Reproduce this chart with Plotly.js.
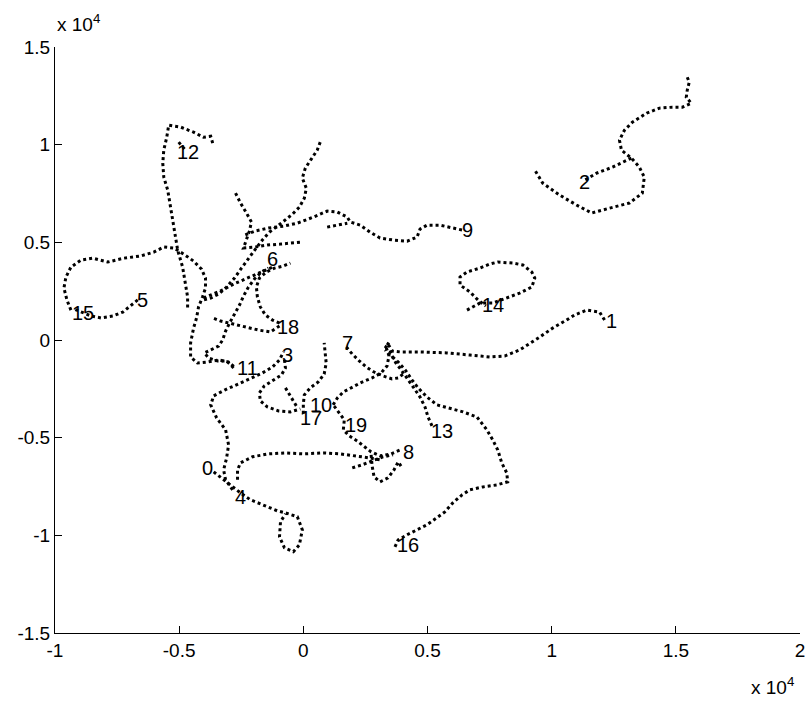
<!DOCTYPE html>
<html>
<head>
<meta charset="utf-8">
<script src="https://cdn.plot.ly/plotly-3.0.1.min.js"></script>
<style>html,body{margin:0;padding:0;background:#fff;}#chart{width:810px;height:709px;}</style>
</head>
<body>
<div id="chart"></div>
<script>
// Track coordinates in units of 10^4
const x0 = [-0.361,-0.325,-0.293,-0.253,-0.213,-0.161,-0.104,-0.072,-0.024,-0.004,-0.016,-0.040,-0.076,-0.096,-0.092,-0.072];
const y0 = [-0.675,-0.711,-0.747,-0.783,-0.818,-0.844,-0.875,-0.885,-0.905,-0.972,-1.049,-1.084,-1.064,-1.008,-0.931,-0.890];
const x1 = [1.213,1.193,1.141,1.092,1.060,1.004,0.952,0.904,0.871,0.811,0.751,0.671,0.578,0.470,0.390,0.357,0.341,0.329];
const y1 = [0.102,0.143,0.153,0.128,0.102,0.061,0.015,-0.026,-0.051,-0.082,-0.087,-0.077,-0.066,-0.061,-0.061,-0.056,-0.020,-0.041];
const x2 = [1.546,1.554,1.546,1.542,1.562,1.526,1.486,1.434,1.382,1.325,1.293,1.273,1.281,1.321,1.353,1.373,1.365,1.313,1.233,1.161,1.100,1.032,0.964,0.932,null,1.321,1.245,1.181,1.133];
const y2 = [1.345,1.320,1.279,1.243,1.212,1.192,1.192,1.187,1.161,1.115,1.074,1.023,0.972,0.931,0.885,0.834,0.752,0.701,0.675,0.650,0.691,0.742,0.803,0.870,null,0.931,0.885,0.854,0.818];
const x3 = [-0.076,-0.072,-0.088,-0.124,-0.157,-0.177,-0.173,-0.145,-0.100,-0.052,-0.012];
const y3 = [-0.102,-0.143,-0.179,-0.210,-0.235,-0.271,-0.312,-0.343,-0.363,-0.368,-0.353];
const x4 = [-0.285,-0.313,-0.321,-0.309,-0.301,-0.313,-0.349,-0.373,-0.361,-0.317,-0.261,-0.213,-0.165,-0.124,-0.096,-0.080];
const y4 = [-0.767,-0.716,-0.665,-0.604,-0.537,-0.460,-0.399,-0.332,-0.286,-0.256,-0.225,-0.199,-0.169,-0.138,-0.102,-0.061];
const x5 = [-0.667,-0.695,-0.727,-0.767,-0.815,-0.855,-0.896,-0.924];
const y5 = [0.205,0.174,0.143,0.123,0.113,0.123,0.143,0.159];
const x6 = [0.068,0.056,0.032,0.008,-0.004,0.012,0.004,-0.016,-0.044,-0.072,-0.104,-0.137,-0.165,-0.193,-0.221,-0.249,-0.277,-0.309,-0.341,-0.373,-0.402,null,-0.273,-0.253,-0.229,-0.209,-0.217,-0.229,-0.241,-0.193,-0.145,-0.092,-0.040,-0.012,null,-0.402,-0.361,-0.325,-0.281,-0.225,-0.173,-0.124];
const y6 = [1.013,0.972,0.926,0.880,0.829,0.777,0.726,0.680,0.644,0.614,0.583,0.552,0.512,0.465,0.419,0.368,0.317,0.271,0.235,0.215,0.205,null,0.752,0.701,0.650,0.604,0.558,0.512,0.471,0.476,0.486,0.491,0.496,0.501,null,0.215,0.235,0.256,0.286,0.317,0.348,0.373];
const x7 = [0.173,0.197,0.225,0.253,0.285,0.321,0.357,0.382,0.402];
const y7 = [-0.036,-0.072,-0.107,-0.138,-0.164,-0.184,-0.199,-0.194,-0.174];
const x8 = [0.197,0.237,0.277,0.321,0.361,null,0.273,0.277,0.285,0.309,0.341,0.365,0.382,0.398,null,-0.265,-0.265,-0.253,-0.205,-0.141,-0.072,0,0.080,0.149,0.217,0.269,0.309];
const y8 = [-0.655,-0.639,-0.619,-0.598,-0.588,null,-0.588,-0.645,-0.701,-0.726,-0.706,-0.665,-0.624,-0.655,null,-0.716,-0.665,-0.629,-0.598,-0.583,-0.578,-0.583,-0.578,-0.583,-0.593,-0.604,-0.614];
const x9 = [0.639,0.602,0.550,0.498,0.470,0.458,0.418,0.361,0.309,0.269,0.229,0.189,0.177,0.137,0.096,0.040,-0.024,-0.080,-0.141,-0.193,-0.237,null,0.096,0.137,0.177];
const y9 = [0.563,0.573,0.588,0.588,0.568,0.527,0.506,0.512,0.522,0.552,0.588,0.604,0.629,0.655,0.660,0.629,0.598,0.583,0.573,0.558,0.537,null,0.578,0.588,0.598];
const x10 = [0.120,0.137,0.161,0.197,0.237,0.277,0.313,0.337,0.345,0.333,0.345];
const y10 = [-0.332,-0.297,-0.266,-0.240,-0.215,-0.194,-0.169,-0.133,-0.082,-0.036,-0.010];
const x11 = [-0.281,-0.309,-0.345,-0.382,-0.398,-0.369,-0.341,-0.325,-0.313,-0.297,-0.277,-0.257,-0.241,-0.221,-0.197,-0.169,-0.141];
const y11 = [-0.143,-0.107,-0.107,-0.092,-0.066,-0.046,-0.031,0,0.046,0.087,0.133,0.179,0.225,0.271,0.312,0.348,0.368];
const x12 = [-0.365,-0.373,-0.402,-0.442,-0.494,-0.542,-0.550,-0.562,-0.566,-0.562,-0.546,-0.534,-0.522,-0.514,-0.506,-0.486,-0.474,-0.466,-0.466,null,-0.502,-0.478];
const y12 = [1.008,1.043,1.038,1.064,1.090,1.100,1.038,0.972,0.905,0.834,0.767,0.680,0.598,0.527,0.460,0.373,0.292,0.220,0.153,null,1.013,0.977];
const x13 = [0.518,0.502,0.490,0.470,0.442,0.418,0.394,0.373,0.357,0.349];
const y13 = [-0.440,-0.394,-0.343,-0.292,-0.240,-0.194,-0.153,-0.118,-0.082,-0.051];
const x14 = [0.659,0.711,0.763,0.819,0.871,0.920,0.932,0.920,0.884,0.843,0.783,0.751,0.711,0.659,0.631,0.631,0.671,0.703,0.735];
const y14 = [0.153,0.189,0.189,0.215,0.240,0.271,0.317,0.348,0.384,0.394,0.399,0.389,0.368,0.348,0.322,0.281,0.246,0.205,0.174];
const x15 = [-0.936,-0.952,-0.964,-0.956,-0.936,-0.896,-0.847,-0.787,-0.723,-0.655,-0.602,-0.562,-0.522,-0.482,-0.442,-0.410,-0.394,-0.394,-0.406,-0.422,-0.430,-0.442,-0.454,-0.454,-0.426,-0.386,-0.341,-0.301,-0.277];
const y15 = [0.153,0.205,0.266,0.322,0.373,0.409,0.419,0.399,0.419,0.430,0.450,0.476,0.471,0.440,0.404,0.363,0.317,0.266,0.220,0.169,0.113,0.061,-0.015,-0.087,-0.118,-0.113,-0.102,-0.113,-0.138];
const x16 = [0.369,0.382,0.418,0.458,0.498,0.538,0.570,0.602,0.639,0.671,0.723,0.779,0.823,0.819,0.799,0.783,0.763,0.739,0.699,0.643,0.582,0.538,0.498,0.462,0.438,0.410,0.382,0.349,0.329];
const y16 = [-1.059,-1.023,-0.997,-0.972,-0.946,-0.910,-0.880,-0.834,-0.793,-0.767,-0.752,-0.742,-0.726,-0.680,-0.629,-0.563,-0.512,-0.460,-0.394,-0.368,-0.348,-0.332,-0.292,-0.245,-0.205,-0.153,-0.113,-0.077,-0.051];
const x17 = [0,0,0.004,0.028,0.060,0.084,0.092,0.088,0.084,null,-0.072,-0.052,-0.028];
const y17 = [-0.378,-0.327,-0.281,-0.245,-0.215,-0.174,-0.118,-0.061,-0.015,null,-0.245,-0.286,-0.338];
const x18 = [-0.096,-0.124,-0.153,-0.173,-0.185,-0.189,-0.177,-0.149,-0.116,-0.080,-0.052,null,-0.096,-0.133,-0.181,-0.233,-0.285,-0.333,-0.365];
const y18 = [0.087,0.102,0.128,0.169,0.220,0.271,0.317,0.348,0.368,0.379,0.394,null,0.072,0.041,0.051,0.066,0.082,0.097,0.113];
const x19 = [0.124,0.145,0.165,0.161,0.185,0.217,0.245,0.273,0.309,0.353,0.390];
const y19 = [-0.338,-0.373,-0.409,-0.460,-0.491,-0.517,-0.547,-0.573,-0.593,-0.583,-0.563];

// Track labels and their positions (10^4 units)
const labelText = ['0','1','2','3','4','5','6','7','8','9','10','11','12','13','14','15','16','17','18','19'];
const labelX = [-0.416,1.211,1.102,-0.094,-0.283,-0.677,-0.155,0.147,0.392,0.629,0.018,-0.275,-0.516,0.508,0.713,-0.938,0.368,-0.022,-0.114,0.159];
const labelY = [-0.655,0.097,0.808,-0.077,-0.803,0.205,0.414,-0.015,-0.573,0.563,-0.332,-0.143,0.962,-0.465,0.179,0.138,-1.049,-0.399,0.066,-0.435];

// Axis ticks
const xTicks = [-1,-0.5,0,0.5,1,1.5,2];
const xTickText = ['-1','-0.5','0','0.5','1','1.5','2'];
const yTicks = [-1.5,-1,-0.5,0,0.5,1,1.5];
const yTickText = ['-1.5','-1','-0.5','0','0.5','1','1.5'];

const xs = [x0,x1,x2,x3,x4,x5,x6,x7,x8,x9,x10,x11,x12,x13,x14,x15,x16,x17,x18,x19];
const ys = [y0,y1,y2,y3,y4,y5,y6,y7,y8,y9,y10,y11,y12,y13,y14,y15,y16,y17,y18,y19];

const FONT = 'Liberation Sans, Arial, Helvetica, sans-serif';

const traces = xs.map((xx, i) => ({
  type: 'scatter', mode: 'lines', x: xx, y: ys[i],
  line: {color: '#000', width: 3, dash: 'dot'},
  connectgaps: false, hoverinfo: 'skip', showlegend: false
}));

const annotations = labelText.map((t, i) => ({
  x: labelX[i], y: labelY[i], xref: 'x', yref: 'y', text: t,
  showarrow: false, xanchor: 'left', yanchor: 'middle',
  font: {family: FONT, size: 20, color: '#000'}
}));

annotations.push({
  xref: 'paper', yref: 'paper', x: 0, y: 1, xanchor: 'left', yanchor: 'bottom', yshift: 10,
  text: 'x 10<sup>4</sup>', showarrow: false, font: {family: FONT, size: 19, color: '#000'}
});
annotations.push({
  xref: 'paper', yref: 'paper', x: 0.995, y: -0.115, xanchor: 'right', yanchor: 'bottom',
  text: 'x 10<sup>4</sup>', showarrow: false, font: {family: FONT, size: 19, color: '#000'}
});

const layout = {
  width: 810, height: 709,
  margin: {l: 55, r: 10, t: 47, b: 76},
  paper_bgcolor: '#fff', plot_bgcolor: '#fff',
  font: {family: FONT, size: 19, color: '#000'},
  xaxis: {
    range: [-1, 2], tickvals: xTicks, ticktext: xTickText,
    ticks: 'inside', ticklen: 7, tickcolor: '#000', tickwidth: 1,
    showline: true, linecolor: '#000', linewidth: 1, mirror: false,
    showgrid: false, zeroline: false, tickfont: {family: FONT, size: 19, color: '#000'}
  },
  yaxis: {
    range: [-1.5, 1.5], tickvals: yTicks, ticktext: yTickText,
    ticks: 'inside', ticklen: 7, tickcolor: '#000', tickwidth: 1,
    showline: true, linecolor: '#000', linewidth: 1, mirror: false,
    showgrid: false, zeroline: false, tickfont: {family: FONT, size: 19, color: '#000'}
  },
  annotations: annotations,
  showlegend: false
};

Plotly.newPlot('chart', traces, layout, {displayModeBar: false, staticPlot: true});
</script>
</body>
</html>
